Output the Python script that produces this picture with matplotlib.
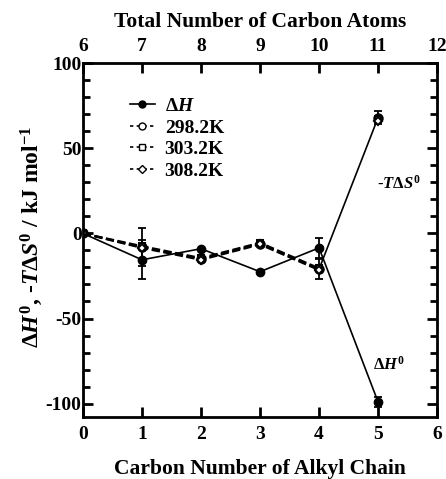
import numpy as np
import matplotlib
matplotlib.use('Agg')
import matplotlib.pyplot as plt
from matplotlib.lines import Line2D

plt.rcParams['font.family'] = ['Liberation Serif', 'DejaVu Serif']
plt.rcParams['font.weight'] = 'bold'
plt.rcParams['axes.unicode_minus'] = False
plt.rcParams['mathtext.fontset'] = 'custom'
plt.rcParams['mathtext.rm'] = 'Liberation Serif:bold'
plt.rcParams['mathtext.it'] = 'Liberation Serif:bold:italic'
plt.rcParams['mathtext.bf'] = 'Liberation Serif:bold'

# data
carbon_n  = [0, 1, 2, 3, 4, 5]
dH        = [0.0, -15.5, -9.0, -22.5, -8.5, -99.0]
dH_err    = [0.0, 11.5, 0.0, 0.0, 6.0, 3.0]
TS_298    = [0.0, -8.0, -15.0, -6.0, -21.0, 68.0]
TS_303    = [0.0, -7.5, -14.5, -5.5, -20.5, 67.0]
TS_308    = [0.0, -8.5, -15.5, -6.5, -21.5, 66.0]
TS_err    = [0.0, 11.0, 0.0, 0.0, 6.0, 4.0]
legend_labels = [r'$\Delta H$', '298.2K', '303.2K', '308.2K']

fig = plt.figure(figsize=(4.46, 4.79), dpi=100, facecolor='white')
ax = fig.add_axes([0.186, 0.129, 0.794, 0.739])

# error bars
ax.errorbar(carbon_n, dH, yerr=dH_err, fmt='none', ecolor='k', capsize=3,
            capthick=1.3, elinewidth=1.3)
ax.errorbar(carbon_n, TS_298, yerr=TS_err, fmt='none', ecolor='k', capsize=3,
            capthick=1.3, elinewidth=1.3)

# solid line from n=4 to n=5 for -TdS
ax.plot(carbon_n[4:], TS_298[4:], color='k', lw=1.2)

ax.plot(carbon_n, dH, color='k', marker='o', ms=6, lw=1.2, mfc='k')
ax.plot(carbon_n[:5], TS_298[:5], color='k', lw=1.6, ls='--')
ax.plot(carbon_n, TS_298, color='k', marker='o', ms=6, ls='none',
        mfc='white', mew=1.5)
ax.plot(carbon_n[:5], TS_303[:5], color='k', lw=1.6, ls='--')
ax.plot(carbon_n, TS_303, color='k', marker='s', ms=5, ls='none',
        mfc='white', mew=1.5)
ax.plot(carbon_n[:5], TS_308[:5], color='k', lw=1.6, ls='--')
ax.plot(carbon_n, TS_308, color='k', marker='D', ms=4.5, ls='none',
        mfc='white', mew=1.5)

ax.set_xlim(0, 6)
ax.set_ylim(-108, 100)
ax.set_yticks([-100, -50, 0, 50, 100])
ax.set_yticks(np.arange(-100, 101, 10), minor=True)
ax.set_xticks(range(7))
ax.tick_params(which='both', direction='in', width=2, labelsize=14,
               right=True)
ax.tick_params(axis='y', pad=1)
ax.tick_params(axis='x', pad=6)
ax.tick_params(which='major', length=7)
ax.tick_params(which='minor', length=5)
ax.tick_params(axis='x', which='both', top=False)
for s in ax.spines.values():
    s.set_linewidth(2)
for lab in ax.get_xticklabels() + ax.get_yticklabels():
    lab.set_fontweight('bold')

top = ax.twiny()
top.set_xlim(6, 12)
top.set_xticks(range(6, 13))
top.tick_params(direction='in', width=2, length=7, labelsize=14, pad=6)
for lab in top.get_xticklabels():
    lab.set_fontweight('bold')
top.set_xlabel('Total Number of Carbon Atoms', fontsize=15.5,
               fontweight='bold', labelpad=8)

ax.set_xlabel('Carbon Number of Alkyl Chain', fontsize=15.5,
              fontweight='bold', labelpad=12)
ax.set_ylabel(r'$\Delta H^0$, -$T\Delta S^0$ / kJ mol$^{-1}$', fontsize=17,
              fontweight='bold')
ax.yaxis.set_label_coords(-0.108, 0.51)

ax.text(5.35, 29, r'-$T\Delta S^0$', fontsize=12, ha='center', va='center')
ax.text(5.18, -77, r'$\Delta H^0$', fontsize=12, ha='center', va='center')

# legend with line+marker handles
handles = [
    Line2D([], [], color='k', marker='o', ms=5, lw=1.2, mfc='k'),
    Line2D([], [], color='k', marker='o', ms=5, lw=1.2, ls=(0, (2, 2)), mfc='white'),
    Line2D([], [], color='k', marker='s', ms=4.5, lw=1.2, ls=(0, (2, 2)), mfc='white'),
    Line2D([], [], color='k', marker='D', ms=4, lw=1.2, ls=(0, (2, 2)), mfc='white'),
]
leg = ax.legend(handles, legend_labels, loc='upper left',
                bbox_to_anchor=(0.11, 0.925), frameon=False, fontsize=14,
                handlelength=1.3, handletextpad=0.5, labelspacing=0.2,
                borderaxespad=0)
for t in leg.get_texts():
    t.set_fontweight('bold')

fig.savefig('out.png', dpi=100, facecolor='white')
